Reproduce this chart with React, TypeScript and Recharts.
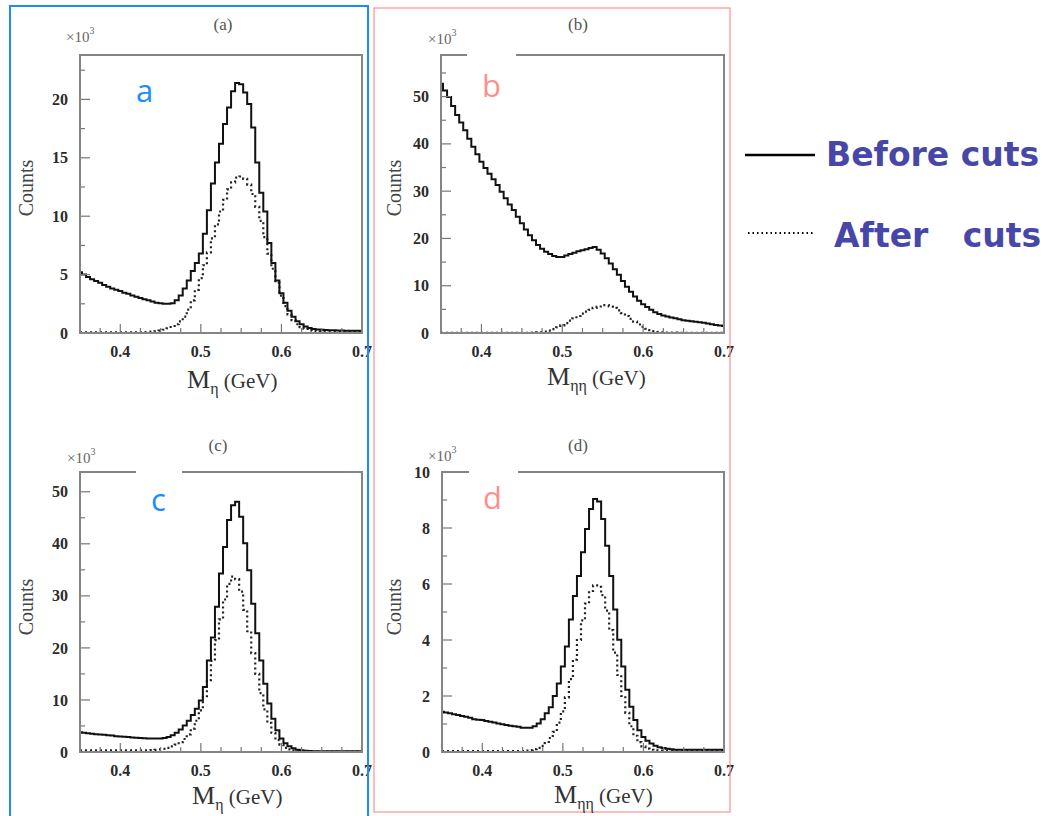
import { LineChart, Line, XAxis, YAxis } from 'recharts'

// bin centres, GeV
const MASS = [
  0.35, 0.355, 0.36, 0.365, 0.37, 0.375, 0.38, 0.385, 0.39, 0.395,
  0.4, 0.405, 0.41, 0.415, 0.42, 0.425, 0.43, 0.435, 0.44, 0.445,
  0.45, 0.455, 0.46, 0.465, 0.47, 0.475, 0.48, 0.485, 0.49, 0.495,
  0.5, 0.505, 0.51, 0.515, 0.52, 0.525, 0.53, 0.535, 0.54, 0.545,
  0.55, 0.555, 0.56, 0.565, 0.57, 0.575, 0.58, 0.585, 0.59, 0.595,
  0.6, 0.605, 0.61, 0.615, 0.62, 0.625, 0.63, 0.635, 0.64, 0.645,
  0.65, 0.655, 0.66, 0.665, 0.67, 0.675, 0.68, 0.685, 0.69, 0.695,
  0.7,
]

const X_TICKS = [0.35, 0.375, 0.4, 0.425, 0.45, 0.475, 0.5, 0.525, 0.55, 0.575, 0.6, 0.625, 0.65, 0.675, 0.7]

// counts x10^3
const A_BEFORE = [
  5.2, 5.0, 4.8, 4.6, 4.45, 4.3, 4.1, 3.95, 3.8, 3.7,
  3.6, 3.45, 3.35, 3.2, 3.1, 3.0, 2.9, 2.8, 2.7, 2.6,
  2.55, 2.5, 2.5, 2.55, 2.8, 3.2, 3.8, 4.5, 5.3, 6.0,
  6.8, 8.5, 10.5, 12.8, 14.6, 16.2, 17.9, 19.3, 20.7, 21.4,
  21.3, 20.6, 19.6, 17.6, 14.6, 12.0, 10.4, 7.7, 6.0, 4.5,
  3.4, 2.6, 1.9, 1.4, 1.0, 0.75, 0.55, 0.42, 0.35, 0.3,
  0.27, 0.25, 0.24, 0.23, 0.22, 0.21, 0.2, 0.2, 0.2, 0.19,
  0.19,
]
const A_AFTER = [
  0.05, 0.05, 0.05, 0.05, 0.05, 0.05, 0.05, 0.05, 0.05, 0.05,
  0.05, 0.05, 0.05, 0.05, 0.05, 0.06, 0.08, 0.1, 0.12, 0.15,
  0.2, 0.28, 0.4, 0.6, 0.75, 1.0, 1.4, 2.0, 2.8, 3.7,
  4.7, 5.8, 6.9, 8.1, 9.3, 10.4, 11.4, 12.3, 12.9, 13.3,
  13.4, 13.2, 12.7, 11.9, 10.8, 9.6, 8.2, 6.8, 5.5, 4.3,
  3.2, 2.3, 1.6, 1.1, 0.75, 0.5, 0.35, 0.25, 0.18, 0.14,
  0.12, 0.1, 0.1, 0.1, 0.1, 0.1, 0.1, 0.1, 0.1, 0.1,
  0.1,
]

const B_BEFORE = [
  52.7, 51.3, 49.9, 48.0, 46.1, 44.5, 42.9, 41.1, 39.4, 37.8,
  36.2, 34.9, 33.7, 32.5, 31.3, 29.9, 28.5, 27.2, 26.0, 24.6,
  23.2, 21.9, 20.7, 19.6, 18.6, 17.8, 17.2, 16.7, 16.3, 16.1,
  16.1, 16.4, 16.7, 17.0, 17.3, 17.5, 17.7, 18.0, 18.2, 17.6,
  16.8, 15.8, 14.7, 13.5, 12.3, 11.0, 9.8, 8.7, 7.7, 6.8,
  6.1, 5.5, 4.9, 4.4, 4.0, 3.7, 3.5, 3.3, 3.1, 2.9,
  2.7, 2.6, 2.5, 2.4, 2.3, 2.15, 2.0, 1.85, 1.7, 1.6,
  1.5,
]
const B_AFTER = [
  0.05, 0.05, 0.05, 0.05, 0.05, 0.05, 0.05, 0.05, 0.05, 0.05,
  0.05, 0.05, 0.05, 0.05, 0.05, 0.05, 0.05, 0.05, 0.05, 0.05,
  0.05, 0.05, 0.05, 0.08, 0.12, 0.2, 0.3, 0.5, 0.8, 1.2,
  1.6, 2.1, 2.6, 3.1, 3.6, 4.1, 4.5, 4.9, 5.3, 5.6,
  5.9, 5.9, 5.6, 5.3, 4.8, 4.2, 3.6, 3.0, 2.4, 1.8,
  1.3, 0.9, 0.6, 0.4, 0.25, 0.15, 0.1, 0.08, 0.06, 0.05,
  0.05, 0.05, 0.05, 0.05, 0.05, 0.05, 0.05, 0.05, 0.05, 0.05,
  0.05,
]

const C_BEFORE = [
  3.8, 3.7, 3.6, 3.5, 3.4, 3.35, 3.3, 3.2, 3.15, 3.05,
  3.0, 2.95, 2.9, 2.8, 2.75, 2.7, 2.65, 2.6, 2.6, 2.6,
  2.6, 2.7, 2.9, 3.2, 3.7, 4.3, 5.1, 6.0, 7.1, 8.3,
  9.9, 12.5, 17.6, 22.0, 27.9, 34.3, 39.4, 44.6, 47.4, 48.1,
  45.2, 40.1, 34.9, 28.5, 22.8, 17.6, 13.1, 9.3, 6.4, 4.2,
  2.6, 1.7, 1.1, 0.7, 0.45, 0.35, 0.25, 0.2, 0.15, 0.15,
  0.15, 0.15, 0.15, 0.15, 0.15, 0.15, 0.15, 0.15, 0.15, 0.15,
  0.15,
]
const C_AFTER = [
  0.3, 0.3, 0.3, 0.3, 0.3, 0.3, 0.3, 0.3, 0.3, 0.3,
  0.3, 0.3, 0.3, 0.3, 0.3, 0.3, 0.3, 0.3, 0.35, 0.4,
  0.5, 0.6, 0.8, 1.1, 1.4, 1.9, 2.5, 3.4, 4.5, 6.0,
  8.0, 10.5, 13.8, 17.5, 21.5, 25.5, 29.3, 32.3, 33.7, 33.2,
  30.8, 27.3, 23.2, 19.0, 15.0, 11.3, 8.2, 5.6, 3.7, 2.3,
  1.4, 0.8, 0.5, 0.3, 0.2, 0.15, 0.1, 0.1, 0.1, 0.1,
  0.1, 0.1, 0.1, 0.1, 0.1, 0.1, 0.1, 0.1, 0.1, 0.1,
  0.1,
]

const D_BEFORE = [
  1.44, 1.41, 1.38, 1.35, 1.32, 1.29, 1.26, 1.22, 1.17, 1.15,
  1.14, 1.11, 1.08, 1.05, 1.02, 0.99, 0.96, 0.94, 0.92, 0.9,
  0.87, 0.87, 0.87, 0.92, 1.02, 1.17, 1.38, 1.6, 2.0, 2.45,
  3.05, 3.77, 4.73, 5.57, 6.29, 7.13, 7.96, 8.68, 9.04, 8.95,
  8.32, 7.37, 6.29, 5.09, 4.01, 3.05, 2.22, 1.62, 1.14, 0.78,
  0.54, 0.4, 0.3, 0.22, 0.17, 0.14, 0.12, 0.1, 0.08, 0.08,
  0.08, 0.08, 0.08, 0.08, 0.08, 0.08, 0.08, 0.08, 0.08, 0.08,
  0.08,
]
const D_AFTER = [
  0.03, 0.03, 0.03, 0.03, 0.03, 0.03, 0.03, 0.03, 0.03, 0.03,
  0.03, 0.03, 0.03, 0.03, 0.03, 0.03, 0.03, 0.03, 0.03, 0.03,
  0.03, 0.05, 0.07, 0.1, 0.15, 0.22, 0.32, 0.5, 0.72, 1.05,
  1.45, 1.95, 2.6, 3.3, 4.0, 4.7, 5.3, 5.75, 5.95, 5.9,
  5.6, 5.05, 4.35, 3.55, 2.75, 2.0, 1.4, 0.92, 0.58, 0.35,
  0.2, 0.12, 0.08, 0.06, 0.05, 0.05, 0.05, 0.05, 0.05, 0.05,
  0.05, 0.05, 0.05, 0.05, 0.05, 0.05, 0.05, 0.05, 0.05, 0.05,
  0.05,
]

const A_Y_TICKS = [0, 2.5, 5, 7.5, 10, 12.5, 15, 17.5, 20, 22.5]
const B_Y_TICKS = [0, 5, 10, 15, 20, 25, 30, 35, 40, 45, 50, 55]
const C_Y_TICKS = [0, 5, 10, 15, 20, 25, 30, 35, 40, 45, 50]
const D_Y_TICKS = [0, 1, 2, 3, 4, 5, 6, 7, 8, 9, 10]

const SERIF = '"Liberation Serif", "DejaVu Serif", serif'
const BLUE = '#1a8cff'
const PINK = '#ff8f8f'
const LEGEND = '#4747a8'
const FRAME = '#858585'

function isMajor(v: number, step: number) {
  const r = v / step
  return Math.abs(r - Math.round(r)) < 1e-6
}

function XTick(props: any) {
  const { x, y, payload } = props
  const v = payload.value as number
  const major = isMajor(v, 0.1)
  return (
    <g>
      <line x1={x} x2={x} y1={y} y2={y - (major ? 9 : 5)} stroke="#777" strokeWidth={1.2} />
      {major ? (
        <text x={x} y={y + 24} textAnchor="middle" fontFamily={SERIF} fontWeight="bold" fontSize={16} fill="#2a2a2a">
          {v.toFixed(1)}
        </text>
      ) : null}
    </g>
  )
}

function YTick(props: any) {
  const { x, y, payload, major } = props
  const v = payload.value as number
  const isMaj = isMajor(v, major)
  return (
    <g>
      <line x1={x} x2={x + (isMaj ? 10 : 5)} y1={y} y2={y} stroke="#777" strokeWidth={1.2} />
      {isMaj ? (
        <text x={x - 12} y={y} dy="0.35em" textAnchor="end" fontFamily={SERIF} fontWeight="bold" fontSize={16} fill="#2a2a2a">
          {v}
        </text>
      ) : null}
    </g>
  )
}

type PanelProps = {
  left: number
  top: number
  width: number
  height: number
  yMax: number
  yTicks: number[]
  yMajor: number
  before: number[]
  after: number[]
}

function Panel({ left, top, width, height, yMax, yTicks, yMajor, before, after }: PanelProps) {
  const data = MASS.map((m, i) => ({ m, before: before[i], after: after[i] }))
  return (
    <div style={{ position: 'absolute', left: left - 60, top: top - 20 }}>
      <LineChart
        width={width + 70}
        height={height + 80}
        data={data}
        margin={{ top: 20, right: 10, left: 20, bottom: 30 }}
      >
        <XAxis
          type="number"
          dataKey="m"
          domain={[0.35, 0.7]}
          ticks={X_TICKS}
          interval={0}
          tick={<XTick />}
          tickSize={0}
          tickMargin={0}
          axisLine={{ stroke: FRAME, strokeWidth: 2 }}
          tickLine={false}
          height={30}
          allowDataOverflow
        />
        <YAxis
          type="number"
          domain={[0, yMax]}
          ticks={yTicks}
          interval={0}
          tick={<YTick major={yMajor} />}
          tickSize={0}
          tickMargin={0}
          axisLine={{ stroke: FRAME, strokeWidth: 2 }}
          tickLine={false}
          width={40}
          allowDataOverflow
        />
        <Line
          dataKey="after"
          type="step"
          stroke="#222"
          strokeWidth={2.2}
          strokeDasharray="2 3"
          dot={false}
          isAnimationActive={false}
        />
        <Line dataKey="before" type="step" stroke="#111" strokeWidth={2} dot={false} isAnimationActive={false} />
      </LineChart>
      {/* plot frame */}
      <div
        style={{
          position: 'absolute',
          left: 59,
          top: 19,
          width: width + 2,
          height: height + 2,
          border: `2px solid ${FRAME}`,
          boxSizing: 'border-box',
          pointerEvents: 'none',
        }}
      />
    </div>
  )
}

function AxisTexts({ title, tx, ty, px, py, cx, cy, mx, my, sub }: any) {
  return (
    <g>
      <text x={tx} y={ty} textAnchor="middle" fontFamily={SERIF} fontSize={17} fill="#555">
        {title}
      </text>
      <text x={px} y={py} fontFamily={SERIF} fontSize={15} fill="#666">
        ×10
        <tspan fontSize={10} dy={-8}>
          3
        </tspan>
      </text>
      <text
        x={cx}
        y={cy}
        textAnchor="middle"
        fontFamily={SERIF}
        fontSize={20}
        fill="#444"
        transform={`rotate(-90 ${cx} ${cy})`}
      >
        Counts
      </text>
      <text x={mx} y={my} fontFamily={SERIF} fill="#333">
        <tspan fontSize={26}>M</tspan>
        <tspan fontSize={16} dy={6}>
          {sub}
        </tspan>
        <tspan fontSize={21} dy={-6}>
          {' (GeV)'}
        </tspan>
      </text>
    </g>
  )
}

export default function App() {
  return (
    <div
      style={{
        position: 'absolute',
        left: 0,
        top: 0,
        width: 1045,
        height: 816,
        background: '#fff',
        overflow: 'hidden',
      }}
    >
      <Panel left={80} top={55} width={282} height={278} yMax={23.8} yTicks={A_Y_TICKS} yMajor={5} before={A_BEFORE} after={A_AFTER} />
      <Panel left={441} top={55} width={283} height={278} yMax={58.8} yTicks={B_Y_TICKS} yMajor={10} before={B_BEFORE} after={B_AFTER} />
      <Panel left={80} top={472} width={282} height={280} yMax={53.8} yTicks={C_Y_TICKS} yMajor={10} before={C_BEFORE} after={C_AFTER} />
      <Panel left={442} top={472} width={282} height={280} yMax={10} yTicks={D_Y_TICKS} yMajor={2} before={D_BEFORE} after={D_AFTER} />

      <svg
        width={1045}
        height={816}
        style={{ position: 'absolute', left: 0, top: 0, pointerEvents: 'none' }}
      >
        {/* column frames */}
        <path d="M10 818 V6 H368 V818" fill="none" stroke={BLUE} strokeWidth={2} />
        <rect x={374} y={8} width={356} height={804} fill="none" stroke={PINK} strokeWidth={1.2} />

        {/* white patches over the plot frames */}
        <rect x={467} y={52} width={49} height={6} fill="#fff" />
        <rect x={136} y={469} width={46} height={6} fill="#fff" />
        <rect x={469} y={469} width={49} height={6} fill="#fff" />

        <AxisTexts title="(a)" tx={223} ty={30} px={66} py={42} cx={33} cy={188} mx={187} my={388} sub="η" />
        <AxisTexts title="(b)" tx={578} ty={30} px={428} py={44} cx={401} cy={188} mx={547} my={385} sub="ηη" />
        <AxisTexts title="(c)" tx={218} ty={451} px={67} py={463} cx={33} cy={607} mx={192} my={804} sub="η" />
        <AxisTexts title="(d)" tx={578} ty={451} px={428} py={461} cx={401} cy={607} mx={554} my={803} sub="ηη" />

        {/* panel letters */}
        <g fontFamily='"Open Sans", "DejaVu Sans", sans-serif' fontSize={31}>
          <text x={136} y={102} fill={BLUE}>a</text>
          <text x={482} y={97} fill={PINK}>b</text>
          <text x={151} y={511} fill={BLUE}>c</text>
          <text x={483} y={509} fill={PINK}>d</text>
        </g>

        {/* legend */}
        <line x1={745} x2={815} y1={155} y2={155} stroke="#000" strokeWidth={2.5} />
        <line x1={748} x2={815} y1={233} y2={233} stroke="#000" strokeWidth={2} strokeDasharray="1.5 3" />
        <g fontFamily='"DejaVu Sans", Verdana, sans-serif' fontWeight="bold" fontSize={33} fill={LEGEND}>
          <text x={826} y={166}>Before cuts</text>
          <text x={834} y={247} style={{ whiteSpace: 'pre' }}>
            {'After   cuts'}
          </text>
        </g>
      </svg>
    </div>
  )
}
